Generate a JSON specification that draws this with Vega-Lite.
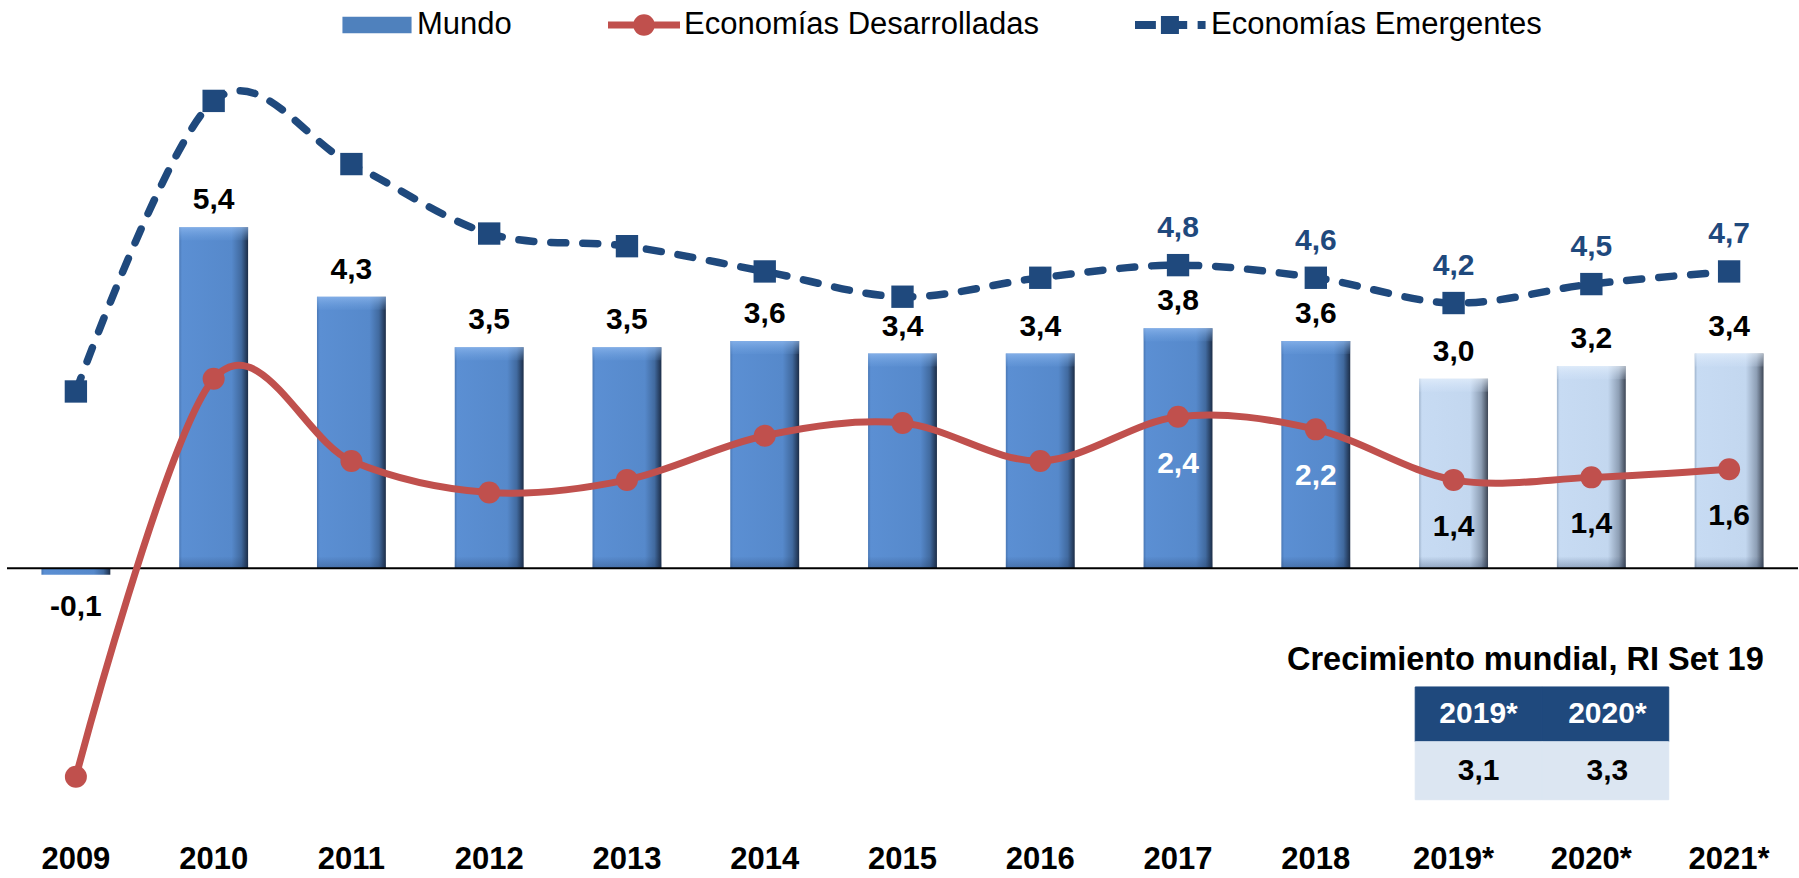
{
  "$schema": "https://vega.github.io/schema/vega-lite/v6.json",
  "width": 1791,
  "height": 758,
  "autosize": {"type": "none"},
  "padding": {"left": 7, "top": 63, "right": 1, "bottom": 57},
  "background": "white",
  "config": {
    "font": "Liberation Sans",
    "view": {"stroke": null},
    "locale": {"number": {"decimal": ",", "thousands": ".", "grouping": [3], "currency": ["", " €"], "minus": "-"}}
  },
  "datasets": {
    "serie": [
      {"year": "2009", "series": "Mundo", "value": -0.1},
      {"year": "2010", "series": "Mundo", "value": 5.4},
      {"year": "2011", "series": "Mundo", "value": 4.3},
      {"year": "2012", "series": "Mundo", "value": 3.5},
      {"year": "2013", "series": "Mundo", "value": 3.5},
      {"year": "2014", "series": "Mundo", "value": 3.6},
      {"year": "2015", "series": "Mundo", "value": 3.4},
      {"year": "2016", "series": "Mundo", "value": 3.4},
      {"year": "2017", "series": "Mundo", "value": 3.8},
      {"year": "2018", "series": "Mundo", "value": 3.6},
      {"year": "2019*", "series": "Mundo", "value": 3.0},
      {"year": "2020*", "series": "Mundo", "value": 3.2},
      {"year": "2021*", "series": "Mundo", "value": 3.4},
      {"year": "2009", "series": "Economías Desarrolladas", "value": -3.3},
      {"year": "2010", "series": "Economías Desarrolladas", "value": 3.0},
      {"year": "2011", "series": "Economías Desarrolladas", "value": 1.7},
      {"year": "2012", "series": "Economías Desarrolladas", "value": 1.2},
      {"year": "2013", "series": "Economías Desarrolladas", "value": 1.4},
      {"year": "2014", "series": "Economías Desarrolladas", "value": 2.1},
      {"year": "2015", "series": "Economías Desarrolladas", "value": 2.3},
      {"year": "2016", "series": "Economías Desarrolladas", "value": 1.7},
      {"year": "2017", "series": "Economías Desarrolladas", "value": 2.4},
      {"year": "2018", "series": "Economías Desarrolladas", "value": 2.2},
      {"year": "2019*", "series": "Economías Desarrolladas", "value": 1.4},
      {"year": "2020*", "series": "Economías Desarrolladas", "value": 1.44},
      {"year": "2021*", "series": "Economías Desarrolladas", "value": 1.57},
      {"year": "2009", "series": "Economías Emergentes", "value": 2.8},
      {"year": "2010", "series": "Economías Emergentes", "value": 7.4},
      {"year": "2011", "series": "Economías Emergentes", "value": 6.4},
      {"year": "2012", "series": "Economías Emergentes", "value": 5.3},
      {"year": "2013", "series": "Economías Emergentes", "value": 5.1},
      {"year": "2014", "series": "Economías Emergentes", "value": 4.7},
      {"year": "2015", "series": "Economías Emergentes", "value": 4.3},
      {"year": "2016", "series": "Economías Emergentes", "value": 4.6},
      {"year": "2017", "series": "Economías Emergentes", "value": 4.8},
      {"year": "2018", "series": "Economías Emergentes", "value": 4.6},
      {"year": "2019*", "series": "Economías Emergentes", "value": 4.2},
      {"year": "2020*", "series": "Economías Emergentes", "value": 4.5},
      {"year": "2021*", "series": "Economías Emergentes", "value": 4.7}
    ],
    "tabla": [
      {"year": "2019*", "crecimiento": 3.1},
      {"year": "2020*", "crecimiento": 3.3}
    ]
  },
  "data": {"name": "serie"},
  "layer": [
    {
      "transform": [{"filter": "datum.series === 'Mundo' && indexof(datum.year, '*') < 0"}],
      "mark": {"type": "bar", "color": {"gradient": "linear", "x1": 0, "y1": 0, "x2": 1, "y2": 0, "stops": [
        {"offset": 0, "color": "#4A78B5"}, {"offset": 0.04, "color": "#5B8FD3"}, {"offset": 0.76, "color": "#5689CB"}, {"offset": 0.9, "color": "#416A9F"}, {"offset": 1, "color": "#1C2D47"}]}},
      "encoding": {
        "x": {"field": "year", "type": "nominal", "scale": {"domain": ["2009","2010","2011","2012","2013","2014","2015","2016","2017","2018","2019*","2020*","2021*"], "paddingInner": 0.5, "paddingOuter": 0.25},
              "axis": {"title": null, "domain": false, "ticks": false, "labelAngle": 0, "labelFont": "Liberation Sans", "labelFontSize": 31, "labelFontWeight": "bold", "labelColor": "black", "labelPadding": 23}},
        "y": {"field": "value", "type": "quantitative", "scale": {"domain": [-4, 8], "nice": false, "zero": false}, "axis": null}
      }
    },
    {
      "transform": [{"filter": "datum.series === 'Mundo' && indexof(datum.year, '*') >= 0"}],
      "mark": {"type": "bar", "color": {"gradient": "linear", "x1": 0, "y1": 0, "x2": 1, "y2": 0, "stops": [
        {"offset": 0, "color": "#9EB3CC"}, {"offset": 0.04, "color": "#C7DBF3"}, {"offset": 0.74, "color": "#C3D7EF"}, {"offset": 0.9, "color": "#8D9EB4"}, {"offset": 1, "color": "#3E4756"}]}},
      "encoding": {
        "x": {"field": "year", "type": "nominal"},
        "y": {"field": "value", "type": "quantitative"}
      }
    },
    {
      "transform": [{"filter": "datum.series === 'Mundo' && datum.value > 0 && indexof(datum.year, '*') < 0"}],
      "mark": {"type": "tick", "orient": "horizontal", "thickness": 13, "size": 69, "yOffset": 6.5, "color": {"gradient": "linear", "x1": 0, "y1": 0, "x2": 0, "y2": 1, "stops": [
        {"offset": 0, "color": "rgba(150,190,242,0.95)"}, {"offset": 1, "color": "rgba(120,170,230,0.15)"}]}},
      "encoding": {"x": {"field": "year", "type": "nominal"}, "y": {"field": "value", "type": "quantitative"}}
    },
    {
      "transform": [{"filter": "datum.series === 'Mundo' && indexof(datum.year, '*') >= 0"}],
      "mark": {"type": "tick", "orient": "horizontal", "thickness": 13, "size": 69, "yOffset": 6.5, "color": {"gradient": "linear", "x1": 0, "y1": 0, "x2": 0, "y2": 1, "stops": [
        {"offset": 0, "color": "rgba(232,242,253,0.95)"}, {"offset": 1, "color": "rgba(215,230,250,0.2)"}]}},
      "encoding": {"x": {"field": "year", "type": "nominal"}, "y": {"field": "value", "type": "quantitative"}}
    },
    {
      "transform": [{"filter": "datum.series === 'Mundo' && datum.value > 0"}],
      "mark": {"type": "tick", "orient": "horizontal", "thickness": 12, "size": 69, "yOffset": -6, "color": {"gradient": "linear", "x1": 0, "y1": 0, "x2": 0, "y2": 1, "stops": [
        {"offset": 0, "color": "rgba(30,50,85,0.0)"}, {"offset": 1, "color": "rgba(30,50,85,0.45)"}]}},
      "encoding": {"x": {"field": "year", "type": "nominal"}, "y": {"datum": 0, "type": "quantitative"}}
    },
    {
      "data": {"values": [{}]},
      "mark": {"type": "rule", "color": "black", "strokeWidth": 2},
      "encoding": {"y": {"datum": 0, "type": "quantitative"}}
    },
    {
      "data": {"name": "tabla"},
      "transform": [{"filter": "datum.year === '2019*'"}],
      "mark": {"type": "bar", "color": "#1F497D", "stroke": "#1F497D", "strokeWidth": 1, "width": {"band": 1.84}, "xOffset": 25},
      "encoding": {"x": {"field": "year", "type": "nominal"}, "y": {"datum": -1.878, "type": "quantitative"}, "y2": {"datum": -2.745}}
    },
    {
      "data": {"name": "tabla"},
      "transform": [{"filter": "datum.year === '2020*'"}],
      "mark": {"type": "bar", "color": "#1F497D", "stroke": "#1F497D", "strokeWidth": 1, "width": {"band": 1.84}, "xOffset": 14},
      "encoding": {"x": {"field": "year", "type": "nominal"}, "y": {"datum": -1.878, "type": "quantitative"}, "y2": {"datum": -2.745}}
    },
    {
      "data": {"name": "tabla"},
      "transform": [{"filter": "datum.year === '2019*'"}],
      "mark": {"type": "bar", "color": "#DCE6F2", "stroke": "#DCE6F2", "strokeWidth": 1, "width": {"band": 1.84}, "xOffset": 25},
      "encoding": {"x": {"field": "year", "type": "nominal"}, "y": {"datum": -2.745, "type": "quantitative"}, "y2": {"datum": -3.663}}
    },
    {
      "data": {"name": "tabla"},
      "transform": [{"filter": "datum.year === '2020*'"}],
      "mark": {"type": "bar", "color": "#DCE6F2", "stroke": "#DCE6F2", "strokeWidth": 1, "width": {"band": 1.84}, "xOffset": 14},
      "encoding": {"x": {"field": "year", "type": "nominal"}, "y": {"datum": -2.745, "type": "quantitative"}, "y2": {"datum": -3.663}}
    },
    {
      "data": {"name": "tabla"},
      "transform": [{"filter": "datum.year === '2019*'"}],
      "mark": {"type": "text", "color": "white", "fontSize": 30, "fontWeight": "bold", "baseline": "middle", "xOffset": 25},
      "encoding": {"x": {"field": "year", "type": "nominal"}, "y": {"datum": -2.31, "type": "quantitative"}, "text": {"field": "year"}}
    },
    {
      "data": {"name": "tabla"},
      "transform": [{"filter": "datum.year === '2020*'"}],
      "mark": {"type": "text", "color": "white", "fontSize": 30, "fontWeight": "bold", "baseline": "middle", "xOffset": 16},
      "encoding": {"x": {"field": "year", "type": "nominal"}, "y": {"datum": -2.31, "type": "quantitative"}, "text": {"field": "year"}}
    },
    {
      "data": {"name": "tabla"},
      "transform": [{"filter": "datum.year === '2019*'"}],
      "mark": {"type": "text", "color": "black", "fontSize": 30, "fontWeight": "bold", "baseline": "middle", "xOffset": 25},
      "encoding": {"x": {"field": "year", "type": "nominal"}, "y": {"datum": -3.21, "type": "quantitative"}, "text": {"field": "crecimiento", "type": "quantitative", "format": ".1f"}}
    },
    {
      "data": {"name": "tabla"},
      "transform": [{"filter": "datum.year === '2020*'"}],
      "mark": {"type": "text", "color": "black", "fontSize": 30, "fontWeight": "bold", "baseline": "middle", "xOffset": 16},
      "encoding": {"x": {"field": "year", "type": "nominal"}, "y": {"datum": -3.21, "type": "quantitative"}, "text": {"field": "crecimiento", "type": "quantitative", "format": ".1f"}}
    },
    {
      "data": {"values": [{"titulo": "Crecimiento mundial, RI Set 19"}]},
      "mark": {"type": "text", "color": "black", "fontSize": 32.5, "fontWeight": "bold", "baseline": "middle", "xOffset": -66},
      "encoding": {"x": {"datum": "2020*", "type": "nominal"}, "y": {"datum": -1.45, "type": "quantitative"}, "text": {"field": "titulo"}}
    },
    {
      "transform": [{"filter": "datum.series === 'Economías Desarrolladas'"}],
      "mark": {"type": "line", "color": "#C0504D", "strokeWidth": 7, "interpolate": "cardinal", "tension": 0},
      "encoding": {"x": {"field": "year", "type": "nominal"}, "y": {"field": "value", "type": "quantitative"}}
    },
    {
      "transform": [{"filter": "datum.series === 'Economías Emergentes'"}],
      "mark": {"type": "line", "color": "#1F497D", "strokeWidth": 7.5, "strokeDash": [15, 17], "strokeCap": "round", "interpolate": "cardinal", "tension": 0},
      "encoding": {"x": {"field": "year", "type": "nominal"}, "y": {"field": "value", "type": "quantitative"}}
    },
    {
      "transform": [{"filter": "datum.series === 'Economías Desarrolladas'"}],
      "mark": {"type": "point", "shape": "circle", "filled": true, "size": 484, "opacity": 1},
      "encoding": {
        "x": {"field": "year", "type": "nominal"},
        "y": {"field": "value", "type": "quantitative"},
        "color": {"field": "series", "type": "nominal",
          "scale": {"domain": ["Mundo", "Economías Desarrolladas", "Economías Emergentes"], "range": ["#4F81BD", "#C0504D", "#1F497D"]},
          "legend": {"orient": "none", "direction": "horizontal", "legendX": 334, "legendY": -74, "title": null,
            "labelFont": "Liberation Sans", "labelFontSize": 31, "labelColor": "black", "labelOffset": 4, "labelLimit": 0, "columnPadding": 96,
            "symbolSize": 5184, "symbolStrokeWidth": 0,
            "symbolType": {"expr": "datum.value === 'Mundo' ? 'M-0.96,-0.23H0.96V0.23H-0.96Z' : datum.value === 'Economías Desarrolladas' ? 'M-1,-0.1H1V0.1H-1Z M-0.3,0A0.3,0.3 0 1,1 0.3,0A0.3,0.3 0 1,1 -0.3,0Z' : 'M-1,-0.11H-0.42V0.11H-1Z M-0.28,-0.25H0.22V0.25H-0.28Z M0.22,-0.11H0.45V0.11H0.22Z M0.74,-0.11H0.96V0.11H0.74Z'"}
          }
        }
      }
    },
    {
      "transform": [{"filter": "datum.series === 'Economías Emergentes'"}],
      "mark": {"type": "point", "shape": "square", "filled": true, "size": 500, "opacity": 1},
      "encoding": {
        "x": {"field": "year", "type": "nominal"},
        "y": {"field": "value", "type": "quantitative"},
        "color": {"field": "series", "type": "nominal",
          "scale": {"domain": ["Mundo", "Economías Desarrolladas", "Economías Emergentes"], "range": ["#4F81BD", "#C0504D", "#1F497D"]},
          "legend": {"orient": "none", "direction": "horizontal", "legendX": 334, "legendY": -74, "title": null,
            "labelFont": "Liberation Sans", "labelFontSize": 31, "labelColor": "black", "labelOffset": 4, "labelLimit": 0, "columnPadding": 96,
            "symbolSize": 5184, "symbolStrokeWidth": 0,
            "symbolType": {"expr": "datum.value === 'Mundo' ? 'M-0.96,-0.23H0.96V0.23H-0.96Z' : datum.value === 'Economías Desarrolladas' ? 'M-1,-0.1H1V0.1H-1Z M-0.3,0A0.3,0.3 0 1,1 0.3,0A0.3,0.3 0 1,1 -0.3,0Z' : 'M-1,-0.11H-0.42V0.11H-1Z M-0.28,-0.25H0.22V0.25H-0.28Z M0.22,-0.11H0.45V0.11H0.22Z M0.74,-0.11H0.96V0.11H0.74Z'"}
          }
        }
      }
    },
    {
      "transform": [{"filter": "datum.series === 'Mundo' && datum.value > 0"}],
      "mark": {"type": "text", "color": "black", "fontSize": 30, "fontWeight": "bold", "baseline": "middle", "dy": -27},
      "encoding": {"x": {"field": "year", "type": "nominal"}, "y": {"field": "value", "type": "quantitative"}, "text": {"field": "value", "type": "quantitative", "format": ".1f"}}
    },
    {
      "transform": [{"filter": "datum.series === 'Mundo' && datum.value < 0"}],
      "mark": {"type": "text", "color": "black", "fontSize": 30, "fontWeight": "bold", "baseline": "middle", "dy": 32},
      "encoding": {"x": {"field": "year", "type": "nominal"}, "y": {"field": "value", "type": "quantitative"}, "text": {"field": "value", "type": "quantitative", "format": ".1f"}}
    },
    {
      "transform": [{"filter": "datum.series === 'Economías Emergentes' && datum.year >= '2017'"}],
      "mark": {"type": "text", "color": "#1F497D", "fontSize": 30, "fontWeight": "bold", "baseline": "middle", "dy": -37},
      "encoding": {"x": {"field": "year", "type": "nominal"}, "y": {"field": "value", "type": "quantitative"}, "text": {"field": "value", "type": "quantitative", "format": ".1f"}}
    },
    {
      "transform": [{"filter": "datum.series === 'Economías Desarrolladas' && datum.year >= '2017'"}],
      "mark": {"type": "text", "fontSize": 30, "fontWeight": "bold", "baseline": "middle", "dy": 47},
      "encoding": {"x": {"field": "year", "type": "nominal"}, "y": {"field": "value", "type": "quantitative"},
        "text": {"field": "value", "type": "quantitative", "format": ".1f"},
        "color": {"condition": {"test": "indexof(datum.year, '*') >= 0", "value": "black"}, "value": "white"}}
    }
  ]
}
